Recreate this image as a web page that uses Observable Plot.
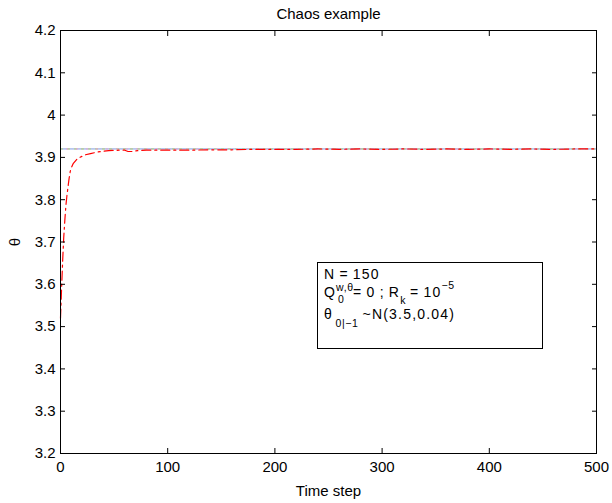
<!DOCTYPE html>
<html>
<head>
<meta charset="utf-8">
<script src="https://cdn.jsdelivr.net/npm/d3@7"></script>
<script src="https://cdn.jsdelivr.net/npm/@observablehq/plot@0.6"></script>
<style>
  body { margin: 0; background: #fff; }
  #wrap { position: relative; width: 612px; height: 503px; font-family: "Liberation Sans", Arial, Helvetica, sans-serif; }
  #legend { position: absolute; left: 317px; top: 262px; width: 226px; height: 87px; border: 1px solid #000; box-sizing: border-box; background: #fff; font-size: 14px; color: #000; letter-spacing: 1.2px; word-spacing: -1px; }
  #legend .ln { position: absolute; left: 6px; line-height: 15px; white-space: nowrap; }
  .sm { font-size: 10.5px; position: relative; letter-spacing: 0.6px; }
  .stack { display: inline-block; position: relative; width: 17px; height: 10px; }
  .stack .up { position: absolute; left: 0; top: -5px; font-size: 10.5px; line-height: 10px; letter-spacing: 0.6px; }
  .stack .dn { position: absolute; left: 2px; top: 7px; font-size: 10.5px; line-height: 10px; }
</style>
</head>
<body>
<div id="wrap"></div>
<script>
// ---- data ----
const titleText = "Chaos example";
const xLabel = "Time step";
const yLabel = "θ";
const xTicks = [0, 100, 200, 300, 400, 500];
const yTicks = [3.2, 3.3, 3.4, 3.5, 3.6, 3.7, 3.8, 3.9, 4, 4.1, 4.2];

// true parameter value (horizontal reference)
const trueT = [0, 500];
const trueV = [3.92, 3.92];

// estimated theta (red dash-dot)
const estT = [0, 1, 2, 3, 4, 5, 6, 7, 8, 9, 10, 12, 15, 18, 23, 28, 35, 45, 55, 60, 63, 67, 72, 80, 90, 100, 120, 140, 160, 180, 200, 220, 240, 260, 280, 300, 320, 340, 360, 380, 400, 420, 440, 460, 480, 500];
const estV = [3.52, 3.59, 3.655, 3.71, 3.75, 3.785, 3.81, 3.83, 3.85, 3.866, 3.875, 3.886, 3.895, 3.9, 3.906, 3.909, 3.913, 3.916, 3.917, 3.917, 3.914, 3.914, 3.916, 3.917, 3.917, 3.917, 3.917, 3.918, 3.918, 3.919, 3.919, 3.919, 3.92, 3.919, 3.92, 3.919, 3.92, 3.919, 3.92, 3.919, 3.92, 3.919, 3.92, 3.919, 3.92, 3.92];

const trueData = trueT.map((t, i) => ({t, v: trueV[i]}));
const estData = estT.map((t, i) => ({t, v: estV[i]}));

const fs = 15;
const noText = () => "";

const chart = Plot.plot({
  width: 612,
  height: 503,
  marginTop: 30,
  marginBottom: 50,
  marginLeft: 60,
  marginRight: 16,
  style: { fontFamily: "'Liberation Sans', Arial, Helvetica, sans-serif", fontSize: fs + "px", color: "#000", background: "#fff" },
  x: { domain: [0, 500] },
  y: { domain: [3.2, 4.2] },
  marks: [
    Plot.line(trueData, { x: "t", y: "v", stroke: "#7f9be0", strokeWidth: 1 }),
    Plot.line(trueData, { x: "t", y: "v", stroke: "#b8d070", strokeWidth: 1, strokeDasharray: "2,5" }),
    Plot.line(trueData, { x: "t", y: "v", stroke: "#f29bd0", strokeWidth: 1, strokeDasharray: "1,9", strokeDashoffset: 4 }),
    Plot.line(estData, { x: "t", y: "v", stroke: "#ff0000", strokeWidth: 1.2, strokeDasharray: "9,4,2,4" }),
    Plot.frame({ stroke: "#000", strokeWidth: 1 }),
    // inward ticks on all four sides
    Plot.axisX(xTicks, { anchor: "bottom", tickSize: 5, dy: -5, tickFormat: noText, label: null }),
    Plot.axisX(xTicks, { anchor: "top", tickSize: 5, dy: 5, tickFormat: noText, label: null }),
    Plot.axisY(yTicks, { anchor: "left", tickSize: 5, dx: 5, tickFormat: noText, label: null }),
    Plot.axisY(yTicks, { anchor: "right", tickSize: 5, dx: -5, tickFormat: noText, label: null }),
    // tick labels + axis titles
    Plot.axisX(xTicks, { anchor: "bottom", tickSize: 0, tickPadding: 8, fontSize: fs, label: xLabel, labelAnchor: "center", labelArrow: "none", labelOffset: 42 }),
    Plot.axisY(yTicks, { anchor: "left", tickSize: 0, tickPadding: 5, fontSize: fs, tickFormat: d => String(d), label: yLabel, labelAnchor: "center", labelArrow: "none", labelOffset: 51 }),
    Plot.text([titleText], { text: d => d, frameAnchor: "top", dy: -12, lineAnchor: "bottom", fontSize: fs, fill: "#000" })
  ]
});

const wrap = document.getElementById("wrap");
wrap.appendChild(chart);

const legend = document.createElement("div");
legend.id = "legend";
legend.innerHTML =
  '<div class="ln" style="top:4px">N = 150</div>' +
  '<div class="ln" style="top:22px">Q<span class="stack"><span class="up">w,θ</span><span class="dn">0</span></span>= 0 ; R<span class="sm" style="top:7px">k</span> = 10<span class="sm" style="top:-8px">−5</span></div>' +
  '<div class="ln" style="top:44px">θ<span class="sm" style="top:8px">&nbsp;0|−1</span>&nbsp;~N(3.5,0.04)</div>';
wrap.appendChild(legend);
</script>
</body>
</html>
